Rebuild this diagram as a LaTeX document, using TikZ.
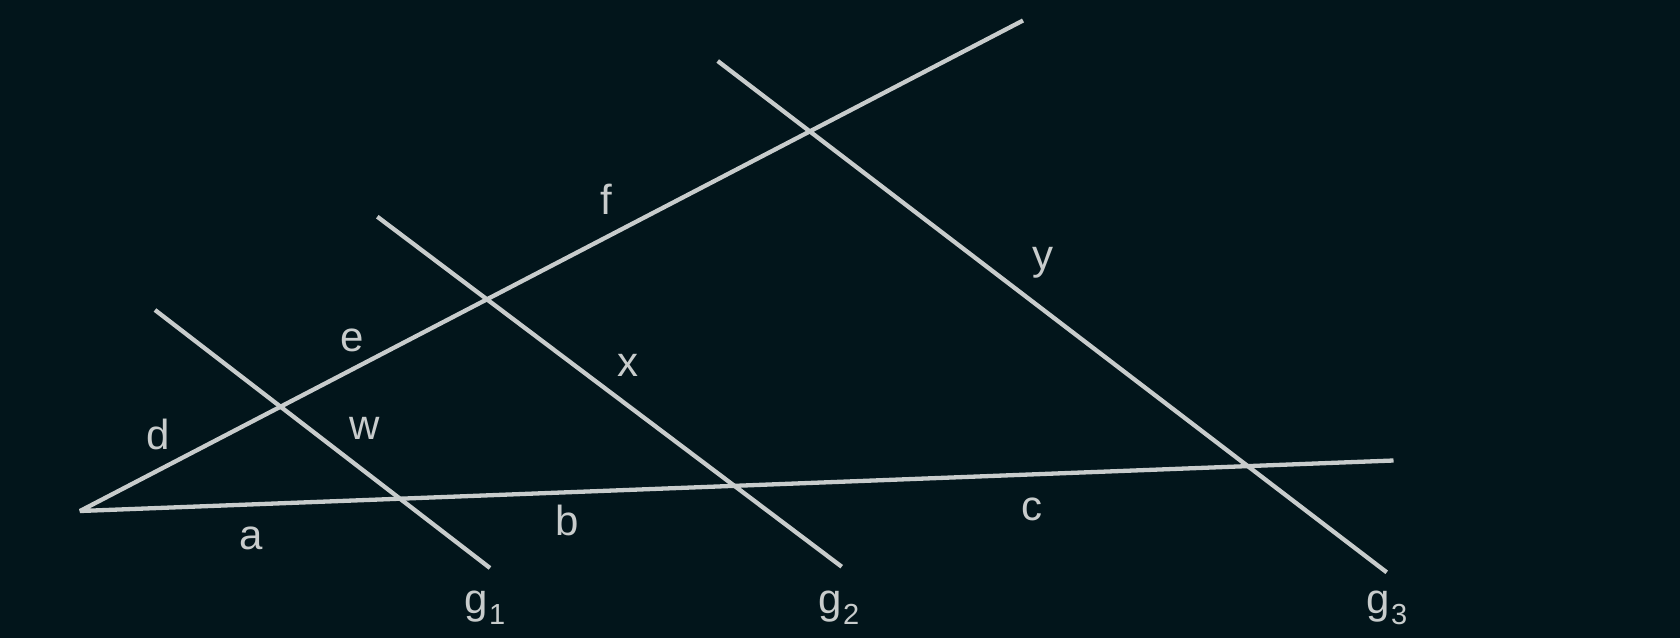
\documentclass[tikz,border=0pt]{standalone}
\usepackage{fontspec}
\setmainfont{Liberation Sans}
\definecolor{bg}{RGB}{2,21,27}
\definecolor{ln}{RGB}{200,204,204}
\newcommand{\gsub}[1]{g\kern1pt\raisebox{-11pt}{\fontsize{29}{31}\selectfont #1}}
\begin{document}
\begin{tikzpicture}[x=1pt,y=-1pt,
  seg/.style={draw=ln, line width=4.3pt, line join=bevel},
  lbl/.style={text=ln, font=\fontsize{42}{48}\selectfont, inner sep=0pt},
  glbl/.style={lbl, anchor=base}]
\fill[bg] (0,0) rectangle (1680,638);
\useasboundingbox (0,0) rectangle (1680,638);
% points
\coordinate (A) at (80,511);
\coordinate (U) at (1023,20.5);
\coordinate (B) at (1393.5,460.5);
\coordinate (g1t) at (155,310);
\coordinate (g1b) at (490,568);
\coordinate (g2t) at (377.3,216.7);
\coordinate (g2b) at (841.7,566.7);
\coordinate (g3t) at (717.7,61);
\coordinate (g3b) at (1386.7,572.3);
% lines
\draw[seg] (U) -- (A) -- (B);
\draw[seg] (g1t) -- (g1b);
\draw[seg] (g2t) -- (g2b);
\draw[seg] (g3t) -- (g3b);
% labels
\node[lbl] (lf) at (606,199) {f};
\node[lbl] (ly) at (1042.7,263) {y};
\node[lbl] (le) at (351.7,340) {e};
\node[lbl] (lx) at (627.7,365) {x};
\node[lbl] (ld) at (158.3,434) {d};
\node[lbl] (lw) at (365,428.3) {w};
\node[lbl] (la) at (250.7,538.3) {a};
\node[lbl] (lb) at (566.7,520) {b};
\node[lbl] (lc) at (1031.8,509) {c};
\node[glbl] (lg1) at (485,613) {\gsub{1}};
\node[glbl] (lg2) at (839,613) {\gsub{2}};
\node[glbl] (lg3) at (1387,613) {\gsub{3}};
\end{tikzpicture}
\end{document}
